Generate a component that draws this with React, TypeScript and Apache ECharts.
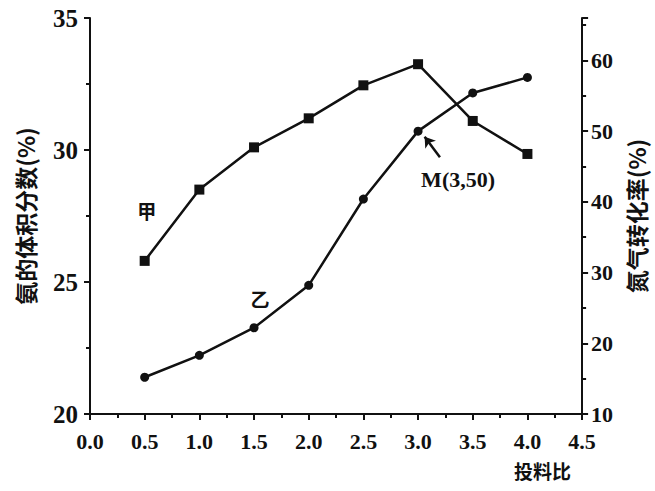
import React, { useEffect, useRef } from "react";
import * as echarts from "echarts";

const ratios = [0.5, 1.0, 1.5, 2.0, 2.5, 3.0, 3.5, 4.0];
const ammoniaFraction = [25.8, 28.5, 30.1, 31.2, 32.45, 33.25, 31.1, 29.85]; // 甲, left axis
const nitrogenConversion = [15.2, 18.3, 22.2, 28.2, 40.4, 50, 55.4, 57.6]; // 乙, right axis
const arrowFrom = [3.2, 46.3];
const arrowTo = [3.06, 49.2];

const serif = "'Liberation Serif', 'DejaVu Serif', serif";
const cjk = "'Noto Sans CJK SC', sans-serif";
const ink = "#111";

export default function App() {
  const ref = useRef<HTMLDivElement>(null);
  useEffect(() => {
    if (!ref.current) return;
    const chart = echarts.init(ref.current, null, { renderer: "svg" });
    const axisCommon = {
      axisLine: { show: true, lineStyle: { color: ink, width: 2 } },
      axisTick: { show: true, inside: false, length: 6, lineStyle: { color: ink, width: 2 } },
      minorTick: { show: true, splitNumber: 2, length: 4, lineStyle: { color: ink, width: 2 } },
      splitLine: { show: false },
    };
    chart.setOption({
      animation: false,
      backgroundColor: "#fff",
      title: {
        text: "投料比",
        left: 514,
        top: 461,
        padding: 0,
        textStyle: { fontFamily: cjk, fontSize: 19, fontWeight: "bold", color: ink },
      },
      grid: { left: 90, right: 69, top: 18, bottom: 77 },
      xAxis: {
        type: "value",
        min: 0,
        max: 4.5,
        interval: 0.5,
        ...axisCommon,
        axisLabel: {
          margin: 16,
          color: ink,
          fontFamily: serif,
          fontSize: 22,
          fontWeight: "bold",
          formatter: (v: number) => v.toFixed(1),
        },
      },
      yAxis: [
        {
          type: "value",
          position: "left",
          min: 20,
          max: 35,
          interval: 5,
          ...axisCommon,
          name: "氨的体积分数(%)",
          nameLocation: "middle",
          nameRotate: 90,
          nameGap: 54,
          nameTextStyle: { fontFamily: cjk, fontSize: 23, fontWeight: "bold", color: ink },
          axisLabel: { margin: 12, color: ink, fontFamily: serif, fontSize: 25, fontWeight: "bold" },
        },
        {
          type: "value",
          position: "right",
          min: 10,
          max: 66,
          interval: 10,
          ...axisCommon,
          name: "氮气转化率(%)",
          nameLocation: "middle",
          nameRotate: 90,
          nameGap: 34,
          nameTextStyle: { fontFamily: cjk, fontSize: 23, fontWeight: "bold", color: ink },
          axisLabel: {
            margin: 9,
            color: ink,
            fontFamily: serif,
            fontSize: 22,
            fontWeight: "bold",
            showMaxLabel: false,
          },
        },
      ],
      series: [
        {
          name: "甲",
          type: "line",
          yAxisIndex: 0,
          data: ratios.map((r, i) => {
            const item: any = { value: [r, ammoniaFraction[i]] };
            if (i === 0) {
              item.label = {
                show: true,
                formatter: "甲",
                position: "top",
                distance: 36,
                offset: [2, 0],
                fontFamily: cjk,
                fontSize: 19,
                fontWeight: "bold",
                color: ink,
              };
            }
            return item;
          }),
          symbol: "rect",
          symbolSize: 10,
          itemStyle: { color: ink },
          lineStyle: { color: ink, width: 2.5 },
        },
        {
          name: "乙",
          type: "line",
          yAxisIndex: 1,
          data: ratios.map((r, i) => {
            const item: any = { value: [r, nitrogenConversion[i]] };
            if (i === 2) {
              item.label = {
                show: true,
                formatter: "乙",
                position: "top",
                distance: 15,
                offset: [6, 0],
                fontFamily: cjk,
                fontSize: 19,
                fontWeight: "bold",
                color: ink,
              };
            }
            if (i === 5) {
              item.label = {
                show: true,
                formatter: "M(3,50)",
                position: "bottom",
                distance: 33,
                offset: [40, 0],
                fontFamily: serif,
                fontSize: 22,
                fontWeight: "bold",
                color: ink,
              };
            }
            return item;
          }),
          symbol: "circle",
          symbolSize: 9,
          itemStyle: { color: ink },
          lineStyle: { color: ink, width: 2.5 },
          markLine: {
            silent: true,
            symbol: ["none", "arrow"],
            symbolSize: 10,
            label: { show: false },
            lineStyle: { color: ink, width: 2.5, type: "solid" },
            data: [[{ coord: arrowFrom }, { coord: arrowTo }]],
          },
        },
      ],
    });
    return () => chart.dispose();
  }, []);
  return (
    <div
      ref={ref}
      style={{ position: "fixed", left: 0, top: 0, width: 655, height: 491 }}
    />
  );
}
